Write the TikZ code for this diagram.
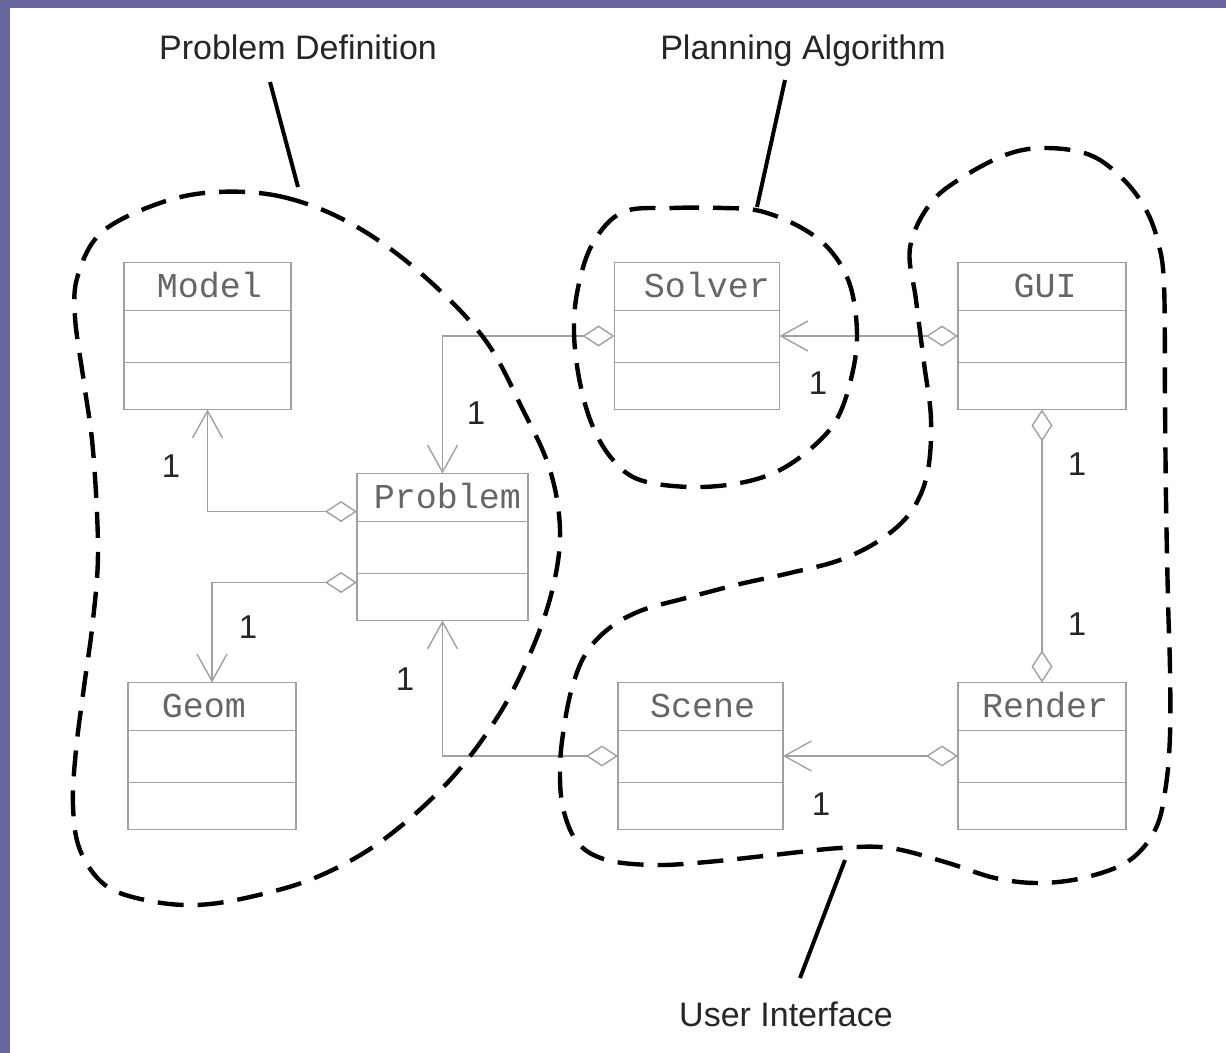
\documentclass[tikz,border=0pt]{standalone}
\usepackage{fontspec}
\setmainfont{Liberation Sans}
\newfontfamily\classfont{Liberation Mono}
\usetikzlibrary{arrows.meta}

\definecolor{framepurple}{RGB}{103,101,155}
\definecolor{umlgray}{RGB}{160,160,160}

\tikzset{
    diam/.tip={Diamond[open, length=16pt, width=10.5pt]},
    barb/.tip={Straight Barb[length=13.5pt, width=15pt]}
}

\begin{document}
\begin{tikzpicture}[
        x=0.5pt, y=-0.5pt,
        classbox/.style={draw=umlgray, line width=0.7pt, inner sep=0pt, outer sep=0pt, minimum height=73.5pt},
        classline/.style={draw=umlgray, line width=0.7pt},
        classname/.style={font=\classfont\fontsize{17.5}{20}\selectfont, text=black!60, anchor=base},
        mult/.style={font=\fontsize{16.5}{18}\selectfont, text=black!85},
        title/.style={font=\fontsize{17}{20}\selectfont, text=black!85, anchor=base},
        assoc/.style={draw=umlgray, line width=0.7pt},
        blob/.style={draw=black, line width=2.2pt, dash pattern=on 13pt off 7pt},
        leader/.style={draw=black, line width=2pt}
    ]

% ---------- frame ----------
    \useasboundingbox (0,0) rectangle (1226,1053);
    \fill[white] (0,0) rectangle (1226,1053);
    \fill[framepurple] (0,0) rectangle (1226,8);
    \fill[framepurple] (0,0) rectangle (10,1053);

% ---------- classes ----------
    \foreach \n/\x/\y/\w/\dx/\t in {model/207.5/336/83.5/1/Model,
                                  solver/697/336/82.5/5/Solver,
                                  gui/1042/336/84/1.5/GUI,
                                  problem/442.5/547/85.5/2.5/Problem,
                                  geom/212/756/84/-4/Geom,
                                  scene/700.5/756/82.5/1/Scene,
                                  render/1042/756/84/1.5/Render}{
        \node[classbox, minimum width=\w pt] (\n) at (\x,\y) {};
        \draw[classline] ([yshift=-24pt]\n.north west) -- ([yshift=-24pt]\n.north east);
        \draw[classline] ([yshift=23.5pt]\n.south west) -- ([yshift=23.5pt]\n.south east);
        \node[classname] (\n-name) at ([xshift=\dx pt, yshift=-17.5pt]\n.north) {\t};
    }

% ---------- associations ----------
    \draw[assoc, {diam}-{barb}] (solver.west) -| (problem.north);
    \draw[assoc, {diam}-{barb}] (gui.west) -- (solver.east);
    \draw[assoc, {diam}-{barb}] ([yshift=-19pt]problem.north west) -| (model.south);
    \draw[assoc, {diam}-{barb}] ([yshift=19pt]problem.south west) -| (geom.north);
    \draw[assoc, {diam}-{barb}] (scene.west) -| (problem.south);
    \draw[assoc, {diam}-{barb}] (render.west) -- (scene.east);
    \draw[assoc, {diam}-{diam}] (gui.south) -- (render.north);

    % multiplicities
    \node[mult] (m-solver-problem) at (476,413) {1};
    \node[mult] (m-gui-solver) at (818,383) {1};
    \node[mult] (m-problem-model) at (171,466) {1};
    \node[mult] (m-problem-geom) at (248,627) {1};
    \node[mult] (m-scene-problem) at (405,679) {1};
    \node[mult] (m-render-scene) at (821,804) {1};
    \node[mult] (m-gui-render-a) at (1077,464) {1};
    \node[mult] (m-gui-render-b) at (1077,624) {1};

% ---------- packages (dashed outlines) ----------
    % problem definition
    \draw[blob] plot[smooth cycle, tension=0.6] coordinates {
        (217,192) (283,197) (350,223) (417,270) (483,337) (523,410) (550,470)
        (560,530) (553,587) (533,647) (500,713) (450,780) (383,840) (317,877)
        (250,897) (195,905) (145,900) (105,885) (80,850) (73,805) (76,750)
        (84,687) (93,620) (98,550) (93,450) (84,383) (75,317) (78,275)
        (102,232) (160,203)};

    % planning algorithm
    \draw[blob] plot[smooth cycle, tension=0.6] coordinates {
        (623,212) (673,208) (723,208) (760,211) (800,227) (830,250) (850,285)
        (857,333) (852,375) (838,417) (815,445) (780,470) (740,483) (690,487)
        (640,480) (613,460) (593,427) (580,383) (574,333) (578,288) (593,243)};

    % user interface
    \draw[blob] plot[smooth cycle, tension=0.6] coordinates {
        (1047,148) (1090,155) (1122,178) (1145,208) (1158,242) (1164,285)
        (1165,400) (1166,500) (1168,600) (1170,670) (1170,735) (1166,785)
        (1156,828) (1130,860) (1087,877) (1040,883) (995,878) (945,862)
        (890,848) (840,848) (773,855) (707,862) (655,865) (607,860) (578,843)
        (563,808) (560,767) (564,727) (572,688) (585,655) (607,630) (640,611)
        (690,597) (740,584) (790,573) (840,560) (880,540) (910,513) (927,475)
        (931,420) (924,363) (916,300) (910,248) (930,204) (963,177) (1008,154)};

% ---------- labels ----------
    \node[title] (pdef) at (298,60) {Problem Definition};
    \node[title] (palg) at (803,60) {Planning Algorithm};
    \node[title] (uint) at (786,1026) {User Interface};

    \coordinate (pdef-a) at (270,82);
    \coordinate (pdef-b) at (298,187);
    \coordinate (palg-a) at (785,80);
    \coordinate (palg-b) at (757,207);
    \coordinate (uint-a) at (845,860);
    \coordinate (uint-b) at (800,978);
    \draw[leader] (pdef-a) -- (pdef-b);
    \draw[leader] (palg-a) -- (palg-b);
    \draw[leader] (uint-a) -- (uint-b);

\end{tikzpicture}
\end{document}
